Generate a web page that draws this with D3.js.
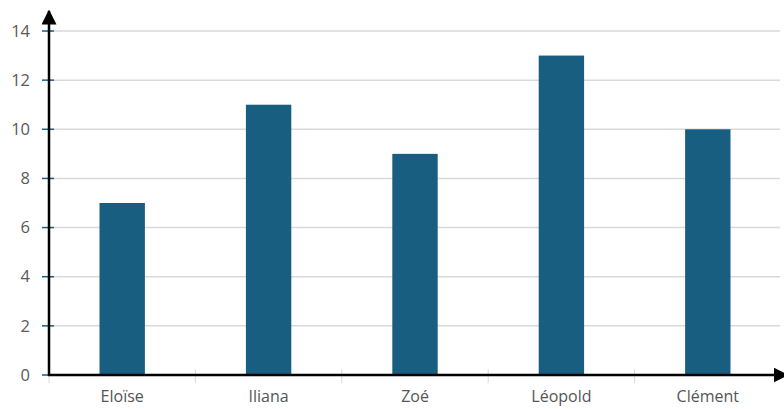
<!DOCTYPE html>
<html>
<head>
<meta charset="utf-8">
<script src="https://cdn.jsdelivr.net/npm/d3@7"></script>
<style>
  body { margin: 0; background: #fff; }
  text { font-family: "Open Sans", sans-serif; }
</style>
</head>
<body>
<div id="chart"></div>
<script>
var names = ["Eloïse", "Iliana", "Zoé", "Léopold", "Clément"];
var values = [7, 11, 9, 13, 10];
var yTicks = [0, 2, 4, 6, 8, 10, 12, 14];

var svgWidth = 784;
var svgHeight = 409;
var margin = { top: 31, right: 3, bottom: 34, left: 49 };
var chartWidth = svgWidth - margin.left - margin.right;
var chartHeight = svgHeight - margin.top - margin.bottom;

var svg = d3.select("#chart").append("svg")
  .attr("width", svgWidth)
  .attr("height", svgHeight);

var g = svg.append("g")
  .attr("transform", `translate(${margin.left}, ${margin.top})`);

// scales
var x = d3.scaleBand()
  .domain(names)
  .range([0, chartWidth])
  .paddingInner(0.69)
  .paddingOuter(0.345);

var y = d3.scaleLinear()
  .domain([0, 14])
  .range([chartHeight, 0]);

// gridlines
g.selectAll(".grid")
  .data(yTicks.filter(d => d > 0))
  .enter()
  .append("line")
  .attr("x1", 0)
  .attr("x2", chartWidth - 1)
  .attr("y1", d => y(d))
  .attr("y2", d => y(d))
  .attr("stroke", "#d9d9d9")
  .attr("stroke-width", 1.5);

// category separators
var step = x.step();
g.selectAll(".sep")
  .data(d3.range(0, names.length))
  .enter()
  .append("line")
  .attr("x1", d => d * step)
  .attr("x2", d => d * step)
  .attr("y1", chartHeight - 6)
  .attr("y2", chartHeight + 8)
  .attr("stroke", "#d9d9d9")
  .attr("stroke-width", 1);

// bars
g.selectAll(".bar")
  .data(values)
  .enter()
  .append("rect")
  .attr("x", (d, i) => x(names[i]))
  .attr("y", d => y(d))
  .attr("width", x.bandwidth())
  .attr("height", d => chartHeight - y(d))
  .attr("fill", "#175e80");

// y axis
var yAxis = d3.axisLeft(y).tickValues(yTicks).tickSize(0).tickPadding(19);
var yg = g.append("g").call(yAxis);
yg.select(".domain").remove();
yg.selectAll("text")
  .attr("fill", "#595959")
  .attr("font-size", "16.5px");

// small y tick marks
g.selectAll(".ytick")
  .data(yTicks)
  .enter()
  .append("line")
  .attr("x1", -7)
  .attr("x2", 5)
  .attr("y1", d => y(d))
  .attr("y2", d => y(d))
  .attr("stroke", "#175e80")
  .attr("stroke-width", 1.5);

// x axis labels
var xAxis = d3.axisBottom(x).tickSize(0).tickPadding(16);
var xg = g.append("g")
  .attr("transform", `translate(0, ${chartHeight})`)
  .call(xAxis);
xg.select(".domain").remove();
xg.selectAll("text")
  .attr("fill", "#555555")
  .attr("font-size", "16px");

// arrow axes
svg.append("defs").append("marker")
  .attr("id", "arrow")
  .attr("viewBox", "0 0 10 10")
  .attr("refX", 9)
  .attr("refY", 5)
  .attr("markerWidth", 6)
  .attr("markerHeight", 6)
  .attr("markerUnits", "strokeWidth")
  .attr("orient", "auto")
  .append("path")
  .attr("d", "M0,0L10,5L0,10Z")
  .attr("fill", "#000");

g.append("line")
  .attr("x1", 0)
  .attr("x2", 0)
  .attr("y1", chartHeight + 1)
  .attr("y2", -20)
  .attr("stroke", "#000")
  .attr("stroke-width", 2.5)
  .attr("marker-end", "url(#arrow)");

g.append("line")
  .attr("x1", -1)
  .attr("x2", chartWidth + 6)
  .attr("y1", chartHeight)
  .attr("y2", chartHeight)
  .attr("stroke", "#000")
  .attr("stroke-width", 2.5)
  .attr("marker-end", "url(#arrow)");
</script>
</body>
</html>
